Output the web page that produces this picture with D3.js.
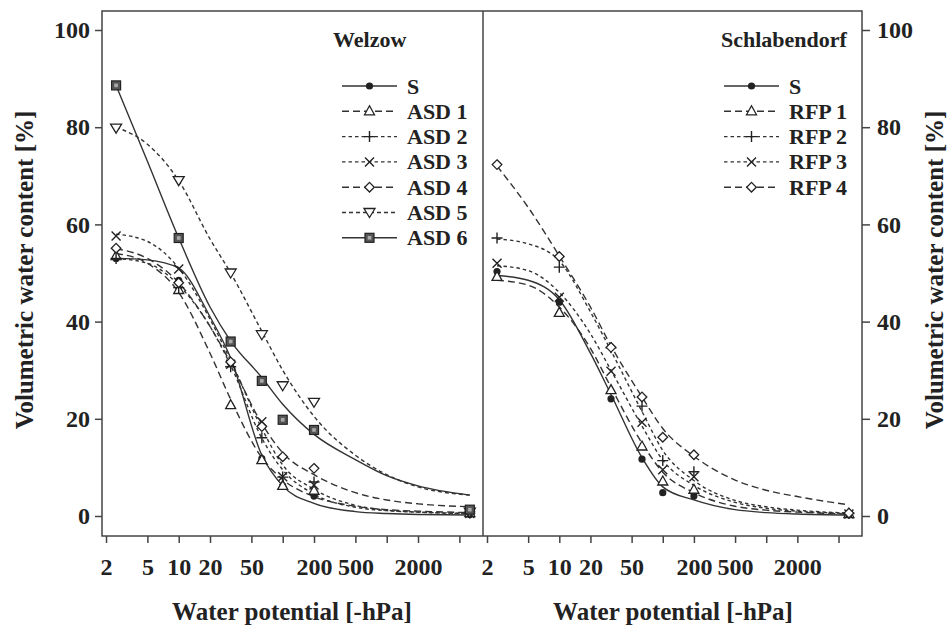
<!DOCTYPE html>
<html>
<head>
<meta charset="utf-8">
<script src="https://cdn.jsdelivr.net/npm/d3@7/dist/d3.min.js"></script>
<style>
    body { margin: 0; background: #fff; }
    text { font-family: "Liberation Serif", "Times New Roman", serif; font-weight: bold; fill: #222; }
    .axis path.domain { display: none; }
    .axis line { stroke: #444; stroke-width: 1.5; }
    .axis text { font-size: 24px; }
</style>
</head>
<body>
<div id="chart"></div>
<script>

// measured water potentials [-hPa]
const potentials = [2.5, 10, 31.6, 63, 100, 200, 6300];
const fitPotentials = [2.5, 5, 10, 20, 31.6, 63, 100, 200, 500, 1000, 2000, 6300];

// x ticks (log scale), only some are labelled
const xTicks = [2, 5, 10, 20, 50, 100, 200, 500, 1000, 2000, 5000];
const xTickLabels = ["2", "5", "10", "20", "50", "", "200", "500", "", "2000", ""];
const yTicks = [0, 20, 40, 60, 80, 100];

// Welzow
const welzowNames = ["S", "ASD 1", "ASD 2", "ASD 3", "ASD 4", "ASD 5", "ASD 6"];
const welzowPoints = [
    [53, 48.5, 31.5, 11.8, 6.2, 4.1, 0.3],
    [53.5, 46.5, 22.8, 11.5, 6.2, 5.2, 0.6],
    [53, 47, 30.7, 16.1, 8.0, 7.0, 0.6],
    [57.6, 50.8, 31.2, 19.4, 8.1, 6.4, 0.5],
    [55.1, 48, 31.7, 18.4, 12.2, 9.8, 1.0],
    [79.8, 69, 50, 37.3, 26.8, 23.4, 0.8],
    [88.6, 57.2, 35.9, 27.8, 19.8, 17.7, 1.3]
];
const welzowFits = [
    [53, 52.7, 51, 41, 32.5, 12.5, 6.2, 2.6, 0.9, 0.5, 0.3, 0.2],
    [54, 52, 46, 33.5, 24, 12, 7.5, 4, 2, 1.3, 1, 0.7],
    [53, 52, 47.5, 39, 31, 16, 9.5, 4.5, 1.8, 1.1, 0.8, 0.5],
    [58, 56.5, 51, 40.5, 32, 18, 10.5, 5.5, 2.2, 1.2, 0.8, 0.5],
    [55, 53, 48, 39, 31.5, 19, 13, 8.5, 4.8, 3.3, 2.5, 1.9],
    [80, 76.5, 69, 57, 50, 38, 30, 20.5, 12.5, 8.5, 6, 4.3],
    [88.6, 73, 57.2, 43, 36, 28.5, 23, 16.8, 11.6, 8.3, 6.2, 4.3]
];

// Schlabendorf
const schlabNames = ["S", "RFP 1", "RFP 2", "RFP 3", "RFP 4"];
const schlabPoints = [
    [50.3, 44, 24.1, 11.7, 4.8, 4.1, 0.3],
    [49.2, 41.8, 25.9, 14.3, 7.1, 5.4, 0.4],
    [57.2, 51.2, 34.6, 22.6, 11.4, 9.1, 0.5],
    [52, 45, 29.8, 19.3, 9.5, 8.1, 0.4],
    [72.3, 53.4, 34.7, 24.5, 16.2, 12.6, 0.6]
];
const schlabFits = [
    [49.5, 48.5, 44.5, 33.5, 25, 12, 6, 3.3, 1.3, 0.7, 0.4, 0.2],
    [48.5, 47.5, 43, 34.5, 26.5, 15, 9, 4.8, 2, 1.2, 0.8, 0.4],
    [57, 56, 52.5, 42, 34, 21.5, 13.5, 7.3, 3.2, 1.9, 1.2, 0.6],
    [51.5, 50.5, 46, 37.5, 30, 18.5, 11.5, 6.3, 2.8, 1.6, 1.0, 0.5],
    [72, 63.5, 53.5, 43, 35, 24.5, 18, 12.3, 7.4, 5.3, 4.0, 2.3]
];

// line + marker style per series (by name)
const seriesStyle = {
    "S":     {dash: null,      marker: "circle"},
    "ASD 1": {dash: "7,4",     marker: "tri"},
    "ASD 2": {dash: "3.5,3",   marker: "plus"},
    "ASD 3": {dash: "3.5,3",   marker: "cross"},
    "ASD 4": {dash: "7,4",     marker: "diamond"},
    "ASD 5": {dash: "4,3",     marker: "tridown"},
    "ASD 6": {dash: null,      marker: "square"},
    "RFP 1": {dash: "7,4",     marker: "tri"},
    "RFP 2": {dash: "3.5,3",   marker: "plus"},
    "RFP 3": {dash: "3.5,3",   marker: "cross"},
    "RFP 4": {dash: "7,4",     marker: "diamond"}
};


// draw one marker symbol at (0,0) into group g
function drawMarker(g, type) {
    let ink = "#222";
    if (type === "circle") {
        g.append("circle").attr("r", 3.6).attr("fill", ink);
    } else if (type === "tri") {
        g.append("path").attr("d", "M0,-5.5L5,3.5L-5,3.5Z")
            .attr("fill", "#fff").attr("stroke", ink).attr("stroke-width", 1.3);
    } else if (type === "tridown") {
        g.append("path").attr("d", "M0,5L5.5,-4L-5.5,-4Z")
            .attr("fill", "#fff").attr("stroke", ink).attr("stroke-width", 1.3);
    } else if (type === "plus") {
        g.append("path").attr("d", "M-5.5,0H5.5M0,-5.5V5.5")
            .attr("stroke", ink).attr("stroke-width", 1.4);
    } else if (type === "cross") {
        g.append("path").attr("d", "M-4.5,-4.5L4.5,4.5M4.5,-4.5L-4.5,4.5")
            .attr("stroke", ink).attr("stroke-width", 1.4);
    } else if (type === "diamond") {
        g.append("path").attr("d", "M0,-4.8L4.8,0L0,4.8L-4.8,0Z")
            .attr("fill", "#fff").attr("stroke", ink).attr("stroke-width", 1.3);
    } else if (type === "square") {
        g.append("rect").attr("x", -4.5).attr("y", -4.5).attr("width", 9).attr("height", 9)
            .attr("fill", "#555").attr("stroke", ink).attr("stroke-width", 1.2);
        g.append("rect").attr("x", -1.8).attr("y", -1.8).attr("width", 3.6).attr("height", 3.6)
            .attr("fill", "#aaa");
    }
}


class PanelVis {

    constructor(svg, opts) {
        this.svg = svg;
        this.opts = opts;
        this.initVis();
    }

    initVis() {
        let vis = this;
        let o = vis.opts;

        vis.x = d3.scaleLog()
            .domain([1.83, 8430])
            .range([o.left, o.right]);

        vis.y = d3.scaleLinear()
            .domain([0, 100])
            .range([516, 30]);

        // bottom axis
        vis.svg.append("g")
            .attr("class", "axis")
            .attr("transform", "translate(0,536)")
            .call(d3.axisBottom(vis.x)
                .tickValues(xTicks)
                .tickFormat((d, i) => xTickLabels[i])
                .tickSize(7)
                .tickPadding(15));

        // x title
        vis.svg.append("text")
            .attr("x", o.titleX)
            .attr("y", 620)
            .attr("text-anchor", "middle")
            .style("font-size", "25px")
            .text("Water potential [-hPa]");

        // place name
        vis.svg.append("text")
            .attr("x", o.nameX)
            .attr("y", 47)
            .style("font-size", "22px")
            .text(o.place);

        vis.drawCurves();
        vis.drawLegend();
    }

    drawCurves() {
        let vis = this;
        let o = vis.opts;

        let line = d3.line()
            .x(d => vis.x(d[0]))
            .y(d => vis.y(d[1]))
            .curve(d3.curveMonotoneX);

        o.names.forEach((name, i) => {
            let st = seriesStyle[name];
            let fit = fitPotentials.map((p, j) => [p, o.fits[i][j]]);

            vis.svg.append("path")
                .datum(fit)
                .attr("d", line)
                .attr("fill", "none")
                .attr("stroke", "#333")
                .attr("stroke-width", 1.4)
                .attr("stroke-dasharray", st.dash);
        });

        // markers on top of all lines
        o.names.forEach((name, i) => {
            let st = seriesStyle[name];
            o.points[i].forEach((v, j) => {
                let g = vis.svg.append("g")
                    .attr("transform", `translate(${vis.x(potentials[j])},${vis.y(v)})`);
                drawMarker(g, st.marker);
            });
        });
    }

    drawLegend() {
        let vis = this;
        let o = vis.opts;

        o.names.forEach((name, i) => {
            let st = seriesStyle[name];
            let yy = 86 + i * 25.3;
            let g = vis.svg.append("g").attr("transform", `translate(${o.legendX},${yy})`);

            g.append("line")
                .attr("x1", 0).attr("x2", 55)
                .attr("stroke", "#333")
                .attr("stroke-width", 1.4)
                .attr("stroke-dasharray", st.dash);

            drawMarker(g.append("g").attr("transform", "translate(27.5,0)"), st.marker);

            g.append("text")
                .attr("x", 65)
                .attr("y", 7.5)
                .style("font-size", "22px")
                .text(name);
        });
    }
}


let svg = d3.select("#chart").append("svg")
    .attr("width", 951)
    .attr("height", 628);

let yScale = d3.scaleLinear().domain([0, 100]).range([516, 30]);

// frame of both panels
svg.append("rect")
    .attr("x", 102).attr("y", 11)
    .attr("width", 760).attr("height", 525)
    .attr("fill", "none")
    .attr("stroke", "#444")
    .attr("stroke-width", 1.5);
svg.append("line")
    .attr("x1", 483).attr("x2", 483)
    .attr("y1", 11).attr("y2", 536)
    .attr("stroke", "#444")
    .attr("stroke-width", 1.5);

// left and right y axes
svg.append("g")
    .attr("class", "axis")
    .attr("transform", "translate(102,0)")
    .call(d3.axisLeft(yScale).tickValues(yTicks).tickSize(7).tickPadding(5));
svg.append("g")
    .attr("class", "axis")
    .attr("transform", "translate(862,0)")
    .call(d3.axisRight(yScale).tickValues(yTicks).tickSize(8).tickPadding(7));

svg.append("text")
    .attr("transform", "translate(33,270) rotate(-90)")
    .attr("text-anchor", "middle")
    .style("font-size", "25px")
    .text("Volumetric water content [%]");
svg.append("text")
    .attr("transform", "translate(943,270) rotate(-90)")
    .attr("text-anchor", "middle")
    .style("font-size", "25px")
    .text("Volumetric water content [%]");

new PanelVis(svg, {
    left: 102, right: 483,
    place: "Welzow", nameX: 333,
    titleX: 292, legendX: 342,
    names: welzowNames, points: welzowPoints, fits: welzowFits
});

new PanelVis(svg, {
    left: 483, right: 862,
    place: "Schlabendorf", nameX: 721,
    titleX: 673, legendX: 724,
    names: schlabNames, points: schlabPoints, fits: schlabFits
});

</script>
</body>
</html>
